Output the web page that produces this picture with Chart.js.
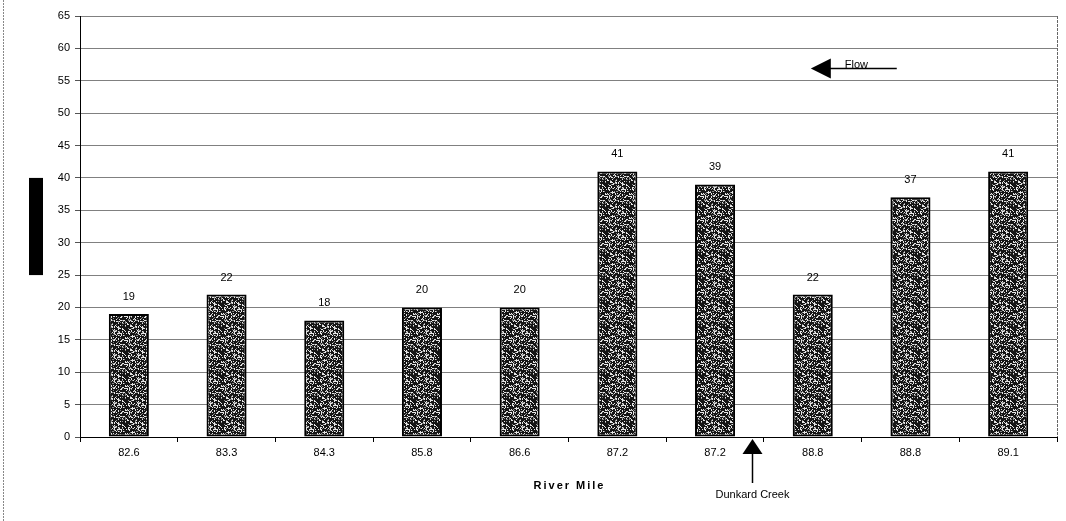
<!DOCTYPE html>
<html>
<head>
<meta charset="utf-8">
<script src="https://cdn.jsdelivr.net/npm/chart.js@4.4.1/dist/chart.umd.min.js"></script>
<style>
  html, body { margin: 0; padding: 0; background: #fff; }
  #wrap { width: 1066px; height: 521px; position: relative; }
</style>
</head>
<body>
<div id="wrap"><canvas id="chart" width="1066" height="521"></canvas></div>
<script>
// River mile stations and measured values
const riverMiles = ['82.6', '83.3', '84.3', '85.8', '86.6', '87.2', '87.2', '88.8', '88.8', '89.1'];
const values = [19, 22, 18, 20, 20, 41, 39, 22, 37, 41];
const yMax = 65;
const yStep = 5;
const xTitle = 'River Mile';
const creekLabel = 'Dunkard Creek';
const flowLabel = 'Flow';

const FONT = '"Liberation Sans", Arial, sans-serif';

// Stippled fill for the bars (fixed dot layout)
function stipple() {
  const c = document.createElement('canvas');
  c.width = 24; c.height = 24;
  const g = c.getContext('2d');
  g.fillStyle = '#151515';
  g.fillRect(0, 0, 24, 24);
  for (let y = 0; y < 24; y++) {
    for (let x = 0; x < 24; x++) {
      const h = ((x * 73856093) ^ (y * 19349663) ^ (x * y * 83492791)) >>> 0;
      const k = h % 100;
      if (k < 24) { g.fillStyle = '#e6e6e6'; g.fillRect(x, y, 1, 1); }
      else if (k < 34) { g.fillStyle = '#8a8a8a'; g.fillRect(x, y, 1, 1); }
    }
  }
  return g.createPattern(c, 'repeat');
}

const ctx0 = document.getElementById('chart').getContext('2d');

const decorations = {
  id: 'decorations',
  afterDatasetsDraw(chart) {
    const { ctx, chartArea: a, scales } = chart;
    const xs = scales.x, ys = scales.y;
    ctx.save();

    // value labels above bars
    const meta = chart.getDatasetMeta(0);
    ctx.fillStyle = '#000';
    ctx.font = '11px ' + FONT;
    ctx.textAlign = 'center';
    ctx.textBaseline = 'middle';
    meta.data.forEach((bar, i) => {
      ctx.fillText(String(values[i]), bar.x, bar.y - 17);
    });

    // right edge of plot
    ctx.strokeStyle = '#666';
    ctx.lineWidth = 1;
    ctx.setLineDash([3, 1]);
    ctx.beginPath();
    ctx.moveTo(a.right + 0.5, a.top);
    ctx.lineTo(a.right + 0.5, a.bottom);
    ctx.stroke();

    // left page edge
    ctx.strokeStyle = '#888';
    ctx.setLineDash([2, 1]);
    ctx.beginPath();
    ctx.moveTo(3.5, 0);
    ctx.lineTo(3.5, chart.height);
    ctx.stroke();
    ctx.setLineDash([]);

    // y axis title block
    ctx.fillStyle = '#000';
    ctx.fillRect(29, ys.getPixelForValue(40), 14, ys.getPixelForValue(25) - ys.getPixelForValue(40));

    // x axis title
    ctx.font = 'bold 11px ' + FONT;
    if ('letterSpacing' in ctx) ctx.letterSpacing = '2px';
    ctx.textAlign = 'center';
    ctx.fillText(xTitle, (a.left + a.right) / 2 + 1, 486);
    if ('letterSpacing' in ctx) ctx.letterSpacing = '0px';

    // creek confluence arrow
    const step = xs.getPixelForValue(1) - xs.getPixelForValue(0);
    const cx = Math.round(xs.getPixelForValue(6) + 0.38 * step) + 0.5;
    ctx.strokeStyle = '#000';
    ctx.lineWidth = 1.5;
    ctx.beginPath();
    ctx.moveTo(cx, a.bottom + 14);
    ctx.lineTo(cx, a.bottom + 46);
    ctx.stroke();
    ctx.beginPath();
    ctx.moveTo(cx, a.bottom + 2);
    ctx.lineTo(cx - 10, a.bottom + 17);
    ctx.lineTo(cx + 10, a.bottom + 17);
    ctx.closePath();
    ctx.fill();
    ctx.font = '11px ' + FONT;
    ctx.textAlign = 'center';
    ctx.fillText(creekLabel, cx, 495);

    // flow direction arrow
    const fy = Math.round(ys.getPixelForValue(56.9)) + 0.5;
    const tipX = xs.getPixelForValue(6) + 0.98 * step;
    const endX = xs.getPixelForValue(7) + 0.86 * step;
    ctx.lineWidth = 1.5;
    ctx.beginPath();
    ctx.moveTo(tipX + 18, fy);
    ctx.lineTo(endX, fy);
    ctx.stroke();
    ctx.beginPath();
    ctx.moveTo(tipX, fy);
    ctx.lineTo(tipX + 20, fy - 10);
    ctx.lineTo(tipX + 20, fy + 10);
    ctx.closePath();
    ctx.fill();
    ctx.textAlign = 'left';
    ctx.textBaseline = 'alphabetic';
    ctx.fillText(flowLabel, tipX + 34, fy - 1);

    ctx.restore();
  }
};

new Chart(ctx0, {
  type: 'bar',
  data: {
    labels: riverMiles,
    datasets: [{
      data: values,
      backgroundColor: stipple(),
      borderColor: '#000',
      borderWidth: 2,
      borderSkipped: false,
      barPercentage: 0.41,
      categoryPercentage: 1.0
    }]
  },
  options: {
    responsive: false,
    animation: false,
    devicePixelRatio: 1,
    layout: { padding: { top: 16, right: 9, left: 0, bottom: 0 } },
    plugins: { legend: { display: false }, tooltip: { enabled: false } },
    scales: {
      x: {
        afterFit(s) { s.height = 84; },
        grid: { offset: true, drawOnChartArea: false, drawTicks: true, tickLength: 5, color: '#000' },
        border: { display: true, color: '#000', width: 1 },
        ticks: { color: '#000', font: { family: FONT, size: 11 }, padding: 4, maxRotation: 0, autoSkip: false }
      },
      y: {
        min: 0,
        max: yMax,
        afterFit(s) { s.width = 80; },
        grid: { color: '#808080', lineWidth: 1, tickLength: 5, tickColor: '#555' },
        border: { display: true, color: '#000', width: 1 },
        ticks: { stepSize: yStep, color: '#000', font: { family: FONT, size: 11 }, padding: 5 }
      }
    }
  },
  plugins: [decorations]
});
</script>
</body>
</html>
